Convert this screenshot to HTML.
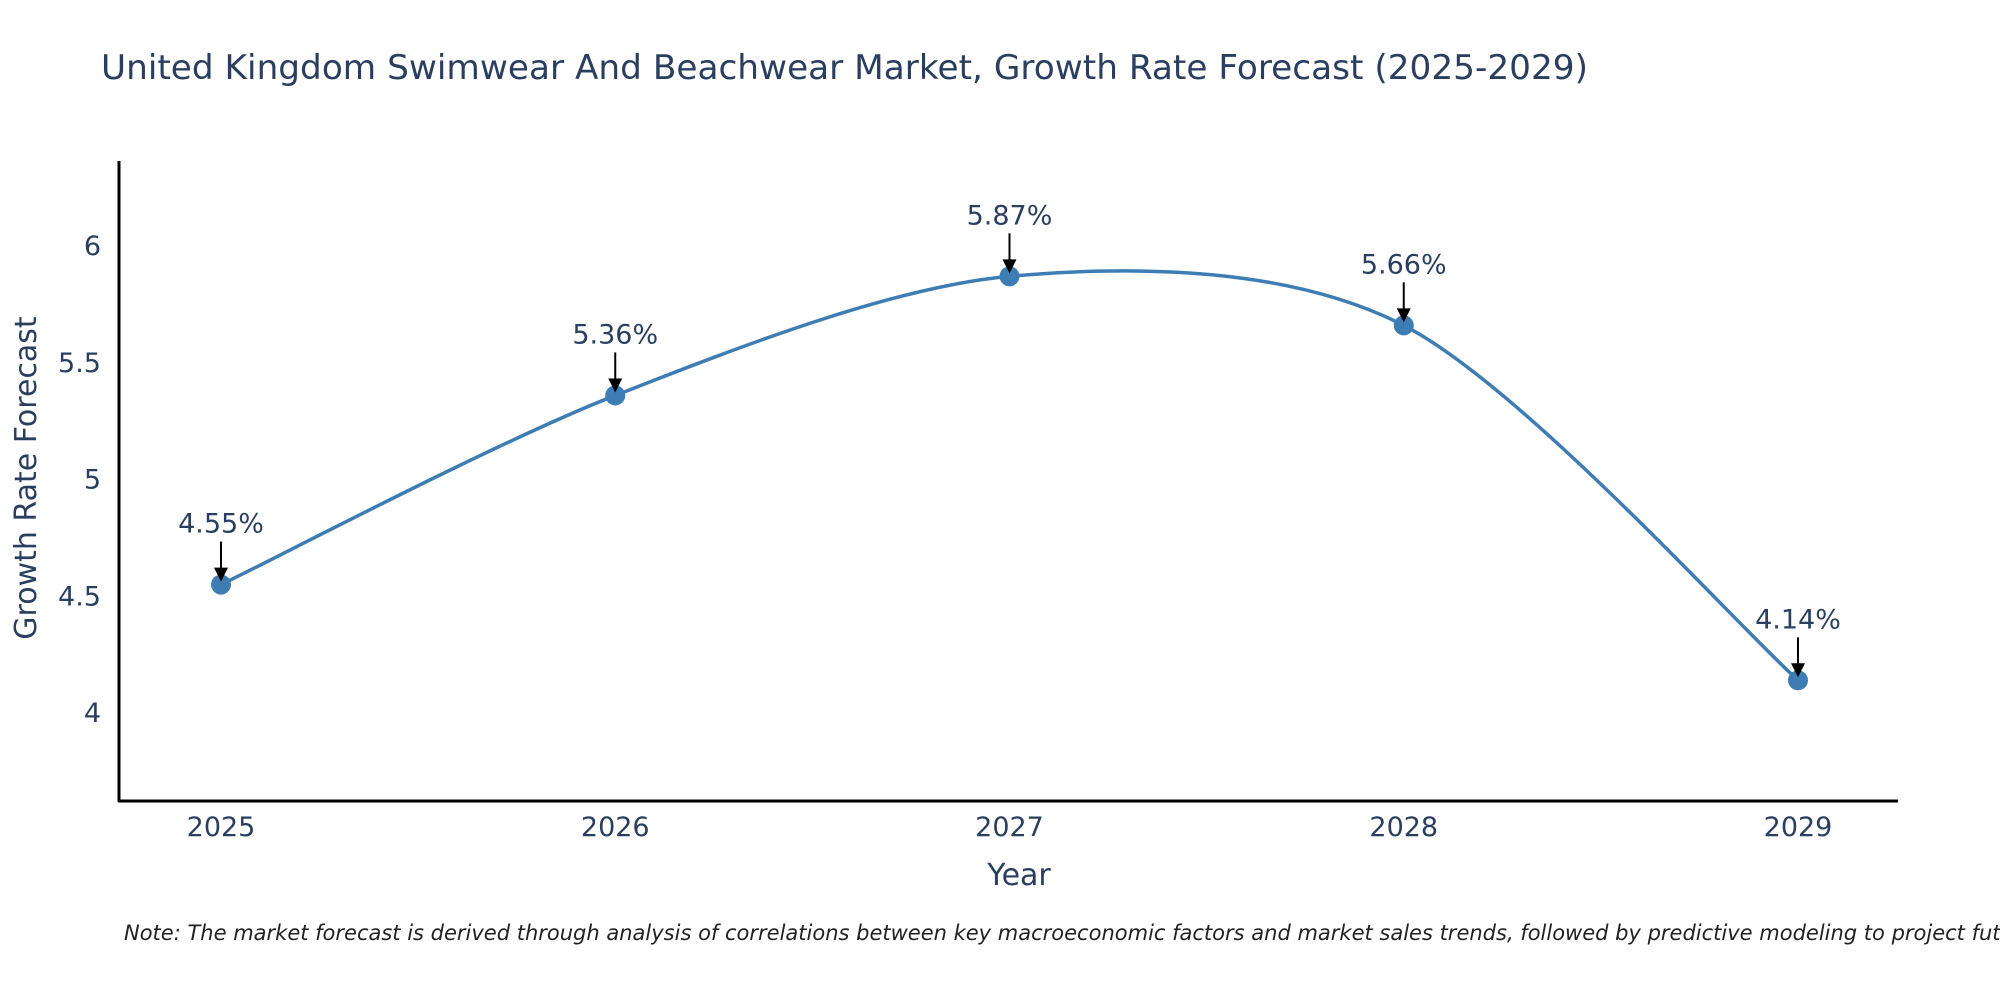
<!DOCTYPE html>
<html><head><meta charset="utf-8"><style>
html,body{margin:0;padding:0;background:#fff;}
svg{display:block;font-family:"DejaVu Sans","Liberation Sans",sans-serif;}
</style></head><body>
<svg id="chart" width="2000" height="1000" viewBox="0 0 2000 1000">
<text x="101" y="79" font-size="34" fill="#2a3f5f" textLength="1487" lengthAdjust="spacingAndGlyphs">United Kingdom Swimwear And Beachwear Market, Growth Rate Forecast (2025-2029)</text>
<g id="yticks"></g>
<g id="xticks"></g>
<path id="line" fill="none" stroke="#3d7db3" stroke-width="3.5"/>
<g id="points"></g>
<line x1="119" y1="161" x2="119" y2="802" stroke="#000" stroke-width="3"/>
<line x1="118" y1="801" x2="1898" y2="801" stroke="#000" stroke-width="3"/>
<text x="1019" y="885" font-size="30" fill="#2a3f5f" text-anchor="middle">Year</text>
<text transform="translate(36,478) rotate(-90)" font-size="30" fill="#2a3f5f" text-anchor="middle">Growth Rate Forecast</text>
<text x="124" y="940" font-size="21" font-style="italic" fill="#222">Note: The market forecast is derived through analysis of correlations between key macroeconomic factors and market sales trends, followed by predictive modeling to project future sales.</text>
</svg>
<script>
const years = ["2025","2026","2027","2028","2029"];
const values = [4.55, 5.36, 5.87, 5.66, 4.14];
const yTicks = [4, 4.5, 5, 5.5, 6];
const NS = "http://www.w3.org/2000/svg";
const x = i => 221 + i * (1798 - 221) / (years.length - 1);
const y = v => 713 - (v - 4) * 233.5;
function mk(tag, attrs, parent, txt) {
  const e = document.createElementNS(NS, tag);
  for (const k in attrs) e.setAttribute(k, attrs[k]);
  if (txt !== undefined) e.textContent = txt;
  parent.appendChild(e); return e;
}
const yt = document.getElementById('yticks');
yTicks.forEach(t => {
  const e = mk('text', {x: 101, y: y(t) + 9, 'font-size': 27, fill: '#2a3f5f', 'text-anchor': 'end'}, yt, String(t));
  
  
});
const xt = document.getElementById('xticks');
years.forEach((yr, i) => {
  const e = mk('text', {x: x(i), y: 836, 'font-size': 27, fill: '#2a3f5f', 'text-anchor': 'middle'}, xt, yr);
  
  
});
const P = values.map((v, i) => [x(i), y(v)]);
let d = `M${P[0][0]},${P[0][1]}`;
const s = 0.15;
for (let i = 0; i < P.length - 1; i++) {
  const p0 = P[i - 1] || P[i], p1 = P[i], p2 = P[i + 1], p3 = P[i + 2] || P[i + 1];
  const c1 = [p1[0] + (p2[0] - p0[0]) * s, p1[1] + (p2[1] - p0[1]) * s];
  const c2 = [p2[0] - (p3[0] - p1[0]) * s, p2[1] - (p3[1] - p1[1]) * s];
  d += ` C${c1[0]},${c1[1]} ${c2[0]},${c2[1]} ${p2[0]},${p2[1]}`;
}
document.getElementById('line').setAttribute('d', d);
const pts = document.getElementById('points');
values.forEach((v, i) => {
  const c = mk('circle', {cx: x(i), cy: y(v), r: 10, fill: '#3d7db3'}, pts);
  
  
  const a = mk('line', {x1: x(i), y1: y(v) - 43, x2: x(i), y2: y(v) - 12, stroke: '#000', 'stroke-width': 2}, pts);
  
  
  const h = mk('polygon', {points: `${x(i)-7},${y(v)-17} ${x(i)+7},${y(v)-17} ${x(i)},${y(v)-3}`, fill: '#000'}, pts);
  
  
  const t = mk('text', {x: x(i), y: y(v) - 52, 'font-size': 27, fill: '#2a3f5f', 'text-anchor': 'middle'}, pts, v.toFixed(2) + '%');
  
  
});
</script>
</body></html>
